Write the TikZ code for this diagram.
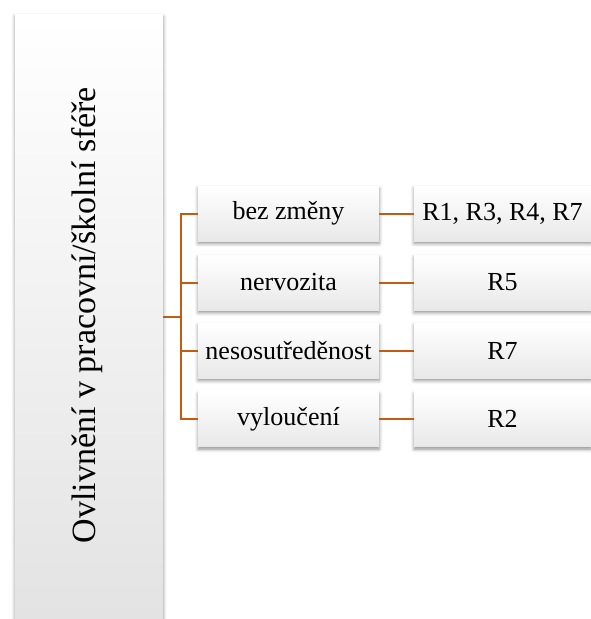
\documentclass[tikz,border=0pt]{standalone}
\usepackage{fontspec}
\setmainfont{Liberation Serif}
\usetikzlibrary{shadows.blur}
\definecolor{conn}{HTML}{C55A11}
\begin{document}
\begin{tikzpicture}[x=1pt,y=-1pt,
  shade box/.style={rectangle, draw=none, top color=white, bottom color=black!9,
    blur shadow={shadow xshift=0pt, shadow yshift=-2.5pt, shadow blur radius=3.5pt, shadow opacity=45},
    inner sep=0pt},
  midbox/.style={shade box, minimum width=181pt, minimum height=55pt, font=\fontsize{26}{30}\selectfont},
  rightbox/.style={shade box, minimum width=177pt, minimum height=55pt, font=\fontsize{26}{30}\selectfont},
  connector/.style={draw=conn, line width=2pt}]
\useasboundingbox (0,0) rectangle (591,619);
\clip (0,0) rectangle (591,619);
\node[shade box, bottom color=black!11, minimum width=148pt, minimum height=605pt] (big) at (89,316.5) {};
\node[rotate=90, font=\fontsize{34}{40}\selectfont, inner sep=0pt] (bigtext) at (87,315) {Ovlivnění v pracovní/školní sféře};
\node[midbox] (m1) at (288.5,213.5) {bez změny};
\node[midbox] (m2) at (288.5,282.5) {nervozita};
\node[midbox] (m3) at (288.5,350.5) {nesosutředěnost};
\node[midbox] (m4) at (288.5,419) {vyloučení};
\node[rightbox] (r1) at (502.5,213.5) {R1, R3, R4, R7};
\node[rightbox] (r2) at (502.5,282.5) {R5};
\node[rightbox] (r3) at (502.5,350.5) {R7};
\node[rightbox] (r4) at (502.5,419) {R2};
\coordinate (bus) at (181,316.5);
\draw[connector] (big.east) -- (bus);
\draw[connector] (m1.west) -| (bus) |- (m4.west);
\draw[connector] (m2.west) -- (m2.west -| bus);
\draw[connector] (m3.west) -- (m3.west -| bus);
\draw[connector] (m1.east) -- (r1.west);
\draw[connector] (m2.east) -- (r2.west);
\draw[connector] (m3.east) -- (r3.west);
\draw[connector] (m4.east) -- (r4.west);
\end{tikzpicture}
\end{document}
